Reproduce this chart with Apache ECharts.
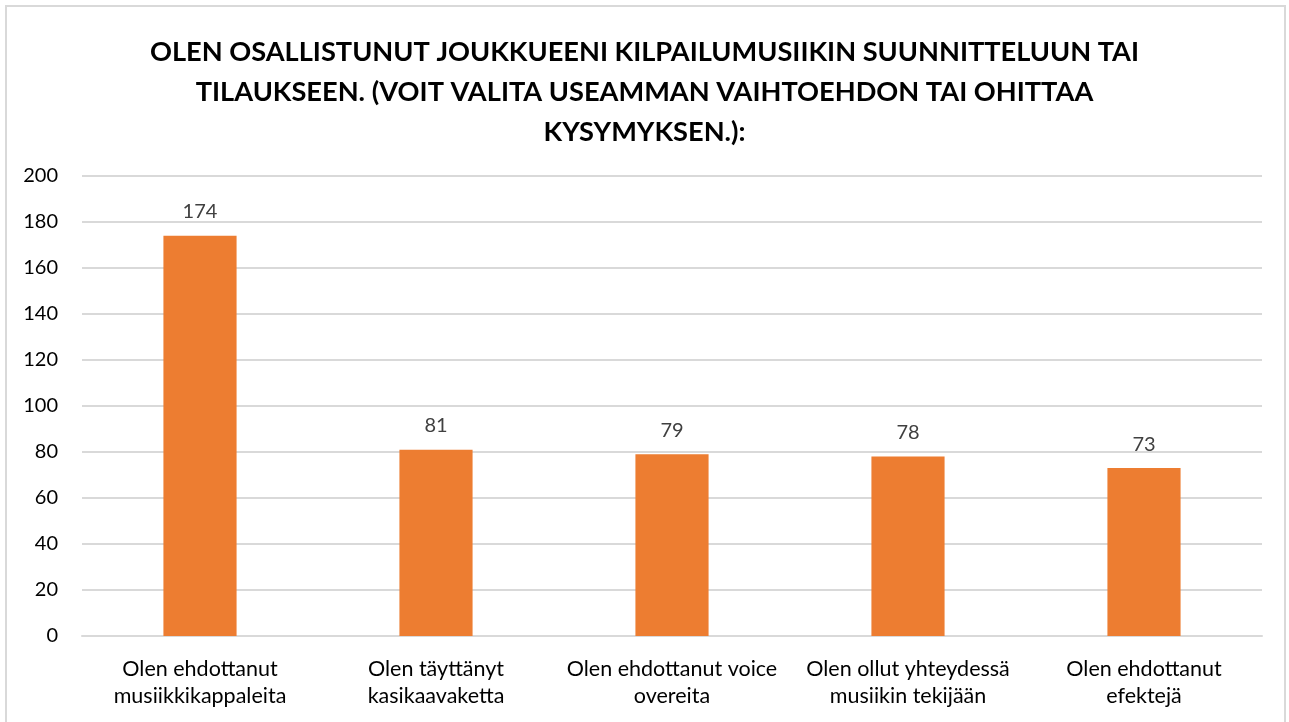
<!DOCTYPE html>
<html>
<head>
<meta charset="UTF-8"/>
<script src="https://cdn.jsdelivr.net/npm/echarts@6/dist/echarts.min.js"></script>
<style>
  html, body { margin: 0; padding: 0; background: #fff; overflow: hidden; }
  #frame { position: absolute; left: 5px; top: 5px; width: 1277px; height: 740px; border: 2px solid #d9d9d9; }
  #c { position: absolute; left: 0; top: 0; width: 1289px; height: 722px; }
</style>
</head>
<body>
<div id="frame"></div>
<div id="c"></div>
<script>
// kategoriat ja arvot
const titleText = "OLEN OSALLISTUNUT JOUKKUEENI KILPAILUMUSIIKIN SUUNNITTELUUN TAI\nTILAUKSEEN. (VOIT VALITA USEAMMAN VAIHTOEHDON TAI OHITTAA\nKYSYMYKSEN.):";
const categories = [
  "Olen ehdottanut\nmusiikkikappaleita",
  "Olen täyttänyt\nkasikaavaketta",
  "Olen ehdottanut voice\novereita",
  "Olen ollut yhteydessä\nmusiikin tekijään",
  "Olen ehdottanut\nefektejä"
];
const values = [174, 81, 79, 78, 73];
const yTicks = [0, 20, 40, 60, 80, 100, 120, 140, 160, 180, 200];

const font = "Lato, 'Open Sans', sans-serif";
const chart = echarts.init(document.getElementById("c"), null, { renderer: "canvas" });
chart.setOption({
  animation: false,
  title: {
    text: titleText,
    left: "center",
    top: 27,
    textStyle: { fontFamily: font, fontSize: 27.2, fontWeight: "bold", color: "#000", lineHeight: 40 }
  },
  grid: { left: 82, right: 27, top: 176, bottom: 86, containLabel: false },
  xAxis: {
    type: "category",
    data: categories,
    axisTick: { show: false },
    axisLine: { lineStyle: { color: "#d9d9d9", width: 2 } },
    axisLabel: { fontFamily: font, fontSize: 21.5, color: "#000", lineHeight: 27, margin: 20, interval: 0 }
  },
  yAxis: {
    type: "value",
    min: yTicks[0],
    max: yTicks[yTicks.length - 1],
    interval: 20,
    axisLine: { show: false },
    axisTick: { show: false },
    splitLine: { lineStyle: { color: "#d9d9d9", width: 2 } },
    axisLabel: { fontFamily: font, fontSize: 20, color: "#000", margin: 24 }
  },
  series: [{
    type: "bar",
    data: values,
    barWidth: "31%",
    itemStyle: { color: "#ed7d31" },
    label: { show: true, position: "top", distance: 14, fontFamily: font, fontSize: 20, color: "#404040" }
  }]
});
</script>
</body>
</html>
